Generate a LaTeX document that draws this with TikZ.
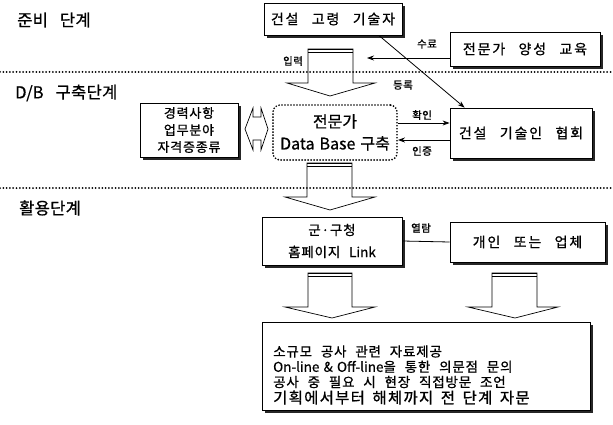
\documentclass[tikz,border=0pt]{standalone}
\usepackage{fontspec}
\setmainfont{Noto Sans CJK KR}[WordSpace=2.5]
\newfontfamily\boxfont{Noto Sans CJK KR}[LetterSpace=6, WordSpace=2.3, FakeBold=0.8]
\newfontfamily\headfont{Noto Sans CJK KR}[LetterSpace=13, WordSpace=2.7, FakeBold=0.8]
\newfontfamily\dbfont{Noto Sans CJK KR}[WordSpace=1.4, FakeBold=0.6]
\newfontfamily\lastfont{Noto Sans CJK KR}[LetterSpace=8, WordSpace=1.6, FakeBold=0.9]
\newfontfamily\secfont{Noto Sans CJK KR}[LetterSpace=2, WordSpace=3, FakeBold=0.8]
\newfontfamily\lblfont{Noto Sans CJK KR}[LetterSpace=4, FakeBold=1]
\usetikzlibrary{arrows.meta,calc}
\begin{document}
\begin{tikzpicture}[x=1pt,y=-1pt,
  box/.style={draw, line width=0.8pt, fill=white, inner sep=2pt, align=center,
    preaction={fill=black!85, transform canvas={xshift=2.8pt,yshift=-2.8pt}},
    font=\headfont\fontsize{14}{17}\selectfont},
  sec/.style={anchor=west, inner sep=0pt, font=\secfont\fontsize{16.5}{18}\selectfont},
  lbl/.style={inner sep=0pt, font=\lblfont\fontsize{10.5}{12}\selectfont},
  sepline/.style={line width=2pt, line cap=round, dash pattern=on 0pt off 3.3pt},
  blockarrow/.style={draw, line width=0.7pt, line join=miter},
  conn/.style={line width=0.8pt, -{Stealth[length=7pt,width=5pt]}}
]
\useasboundingbox (0,0) rectangle (613,425);

% section titles
\node[sec] (s1) at (17,20) {준비 단계};
\node[sec] (s2) at (15,93) {{\dbfont D/B} 구축단계};
\node[sec] (s3) at (19,208) {활용단계};

% boxes
\node[box, minimum width=138, minimum height=32] (a1) at (333,19) {건설 고령 기술자};
\node[box, minimum width=150, minimum height=34] (edu) at (525,49) {전문가 양성 교육};
\node[box, minimum width=98, minimum height=54, font=\boxfont\fontsize{13}{17}\selectfont] (career) at (189,130) {경력사항\\업무분야\\자격증종류};
\node[draw, line width=1.9pt, line cap=round, dash pattern=on 0pt off 3pt, rounded corners=7pt,
  minimum width=124, minimum height=55, align=center, inner sep=1pt,
  font=\dbfont\fontsize{16}{22}\selectfont] (db) at (335,132.5) {전문가\\Data Base 구축};
\node[box, minimum width=142, minimum height=50] (assoc) at (521,133) {건설 기술인 협회};
\node[box, minimum width=140, minimum height=48, font=\boxfont\fontsize{13.5}{22}\selectfont] (link) at (332,241) {군·구청\\홈페이지 {\dbfont Link}};
\node[box, minimum width=155, minimum height=40] (user) at (527.5,242) {개인 또는 업체};
\node[box, minimum width=328, minimum height=88] (result) at (426,366) {};
\node[anchor=west, align=left, inner sep=0pt, font=\boxfont\fontsize{13.5}{15.3}\selectfont] (rtext) at (273,375)
  {소규모 공사 관련 자료제공\\{\dbfont On-line \& Off-line}을 통한 의문점 문의\\공사 중 필요 시 현장 직접방문 조언\\[1pt]{\lastfont\fontsize{15.5}{16}\selectfont 기획에서부터 해체까지 전 단계 자문}};

% labels
\node[lbl] (l1) at (293,61) {입력};
\node[lbl] (l2) at (427,44) {수료};
\node[lbl] (l3) at (403,85) {등록};
\node[lbl] (l4) at (422,115) {확인};
\node[lbl] (l5) at (422,151) {인증};
\node[lbl] (l6) at (421,228) {열람};

% block arrows
\foreach \xl/\xr/\yt/\ys/\hl/\hr/\tx/\ty in {308/353/49/83/287/375/330/96, 307/352/163/197/285/375/330/210, 308/352/273/307/285/375/332/318, 492/537/273/307/468/558/515/318}{
  \draw[blockarrow] (\xl,\yt) -- (\xr,\yt) -- (\xr,\ys) -- (\hr,\ys) -- (\tx,\ty) -- (\hl,\ys) -- (\xl,\ys) -- cycle;
  \draw[line width=1.6pt] (\xl,\yt+0.6) -- (\xr,\yt+0.6);
  \draw[line width=0.6pt] (\xl,\yt+3.2) -- (\xr,\yt+3.2);
}

% double block arrow between career and db
\draw[blockarrow] (253,108) -- (253,117) -- (261,117) -- (261,108) -- (268,129) -- (261,150) -- (261,140) -- (253,140) -- (253,150) -- (245,129) -- cycle;

% connectors
\coordinate (suend) at (367,58);
\draw[conn] ($(edu.west)+(0,9)$) -- (suend);
\draw[conn] ($(a1.south west)!0.83!(a1.south east)$) -- ($(assoc.north west)+(15,0)$);
\draw[conn] ($(db.east)+(0,-9.5)$) -- ($(assoc.west)+(0,-10)$);
\draw[conn] ($(assoc.west)+(0,7)$) -- ($(db.east)+(0,7.5)$);
\draw[line width=0.8pt] (link.east) -- (user.west);

% separator lines
\draw[sepline] (0,72) -- (613,72);
\draw[sepline] (0,188) -- (613,188);
\end{tikzpicture}
\end{document}
